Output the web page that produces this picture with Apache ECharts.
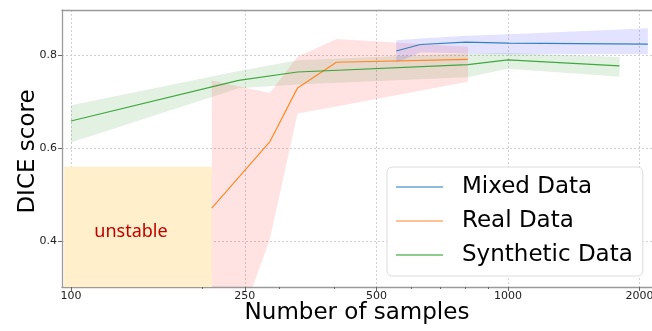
<!DOCTYPE html>
<html>
<head>
<meta charset="utf-8">
<script src="https://cdn.jsdelivr.net/npm/echarts@6/dist/echarts.min.js"></script>
<style>html,body{margin:0;padding:0;background:#fff;}#c{width:652px;height:331px;}</style>
</head>
<body>
<div id="c"></div>
<script>
// ---- data ----
const xTicks = [100, 250, 500, 1000, 2000];
const xMinorTicks = [200, 300, 400, 600, 700, 800, 900];
const yTicks = [0.4, 0.6, 0.8];

const mixedX = [555, 630, 800, 1000, 2090];
const mixedMean = [0.808, 0.822, 0.827, 0.825, 0.823];
const mixedLow = [0.783, 0.805, 0.803, 0.801, 0.801];
const mixedHigh = [0.831, 0.835, 0.841, 0.844, 0.857];

const realX = [210, 285, 330, 405, 810];
const realMean = [0.471, 0.613, 0.729, 0.784, 0.790];
const realLow = [0.06, 0.403, 0.674, 0.689, 0.742];
const realHigh = [0.745, 0.718, 0.796, 0.834, 0.817];

const synthX = [100, 242, 330, 810, 1000, 1800];
const synthMean = [0.658, 0.745, 0.763, 0.779, 0.789, 0.776];
const synthLow = [0.612, 0.728, 0.736, 0.752, 0.770, 0.753];
const synthHigh = [0.692, 0.765, 0.788, 0.803, 0.804, 0.795];

const unstableX = [96.5, 210];
const unstableY = [0.302, 0.560];

const X_MIN = 95.4, X_MAX = 2136, Y_MIN = 0.302, Y_MAX = 0.896;

// ---- chart ----
const chart = echarts.init(document.getElementById('c'), null, {renderer: 'canvas'});
const FONT = 'DejaVu Sans';
const SPINE = '#9a9a9a';

function band(xs, lo, hi, color) {
  return {
    type: 'custom', silent: true, z: 1,
    data: xs.map((x, i) => [x, lo[i], hi[i]]),
    encode: {x: 0, y: [1, 2]},
    renderItem: function (params, api) {
      if (params.dataIndex !== 0) return null;
      const top = xs.map((x, i) => api.coord([x, hi[i]]));
      const bot = xs.map((x, i) => api.coord([x, lo[i]])).reverse();
      const cs = params.coordSys;
      return {
        type: 'polygon',
        shape: {points: top.concat(bot)},
        style: {fill: color, stroke: null},
        clipPath: {type: 'rect', shape: {x: cs.x, y: cs.y, width: cs.width, height: cs.height}}
      };
    }
  };
}

function line(name, xs, ys, color, extra) {
  return Object.assign({
    name: name, type: 'line', showSymbol: false, symbol: 'none', z: 3,
    data: xs.map((x, i) => [x, ys[i]]),
    lineStyle: {color: color, width: 1.2, opacity: 0.9},
    itemStyle: {color: color}
  }, extra || {});
}

const option = {
  animation: false,
  grid: {left: 62, top: 10, right: 0, height: 277, show: false, containLabel: false, outerBoundsMode: 'none'},
  legend: {
    orient: 'vertical', left: 387, top: 167,
    backgroundColor: '#fff', borderColor: '#dcdcdc', borderWidth: 1, borderRadius: 5,
    padding: [6, 10, 7, 9], itemGap: 6,
    icon: 'rect', itemWidth: 47, itemHeight: 2,
    textStyle: {fontFamily: FONT, fontSize: 23, color: '#000', lineHeight: 28, padding: [0, 0, 0, 14]},
    data: [
      {name: 'Mixed Data', itemStyle: {color: '#8fbbe0'}},
      {name: 'Real Data', itemStyle: {color: '#ffc393'}},
      {name: 'Synthetic Data', itemStyle: {color: '#8ccd8c'}}
    ]
  },
  xAxis: [{
    type: 'log', logBase: 10, min: X_MIN, max: X_MAX,
    name: 'Number of samples', nameLocation: 'middle', nameGap: 15, nameMoveOverlap: false,
    nameTextStyle: {fontFamily: FONT, fontSize: 23, color: '#000'},
    axisLine: {show: true, lineStyle: {color: SPINE, width: 1.3}},
    axisTick: {show: true, length: 4, customValues: xTicks, lineStyle: {color: '#666'}},
    axisLabel: {customValues: xTicks, margin: 4, fontFamily: FONT, fontSize: 11, color: '#222',
      hideOverlap: false, formatter: v => String(Math.round(v))},
    splitLine: {show: true, lineStyle: {color: '#d0d0d0', type: [2, 2], width: 1}},
    minorTick: {show: false}
  }, {
    type: 'log', logBase: 10, min: X_MIN, max: X_MAX, position: 'bottom', gridIndex: 0,
    axisLine: {show: false},
    axisTick: {show: true, length: 2, customValues: xMinorTicks, lineStyle: {color: '#666'}},
    axisLabel: {show: false},
    splitLine: {show: false}
  }, {
    type: 'log', logBase: 10, min: X_MIN, max: X_MAX, position: 'top', gridIndex: 0,
    axisLine: {show: true, lineStyle: {color: SPINE, width: 1.3}},
    axisTick: {show: false},
    axisLabel: {show: false},
    splitLine: {show: false}
  }],
  yAxis: {
    type: 'value', min: Y_MIN, max: Y_MAX,
    name: 'DICE score', nameLocation: 'middle', nameGap: 22, nameMoveOverlap: false,
    nameTextStyle: {fontFamily: FONT, fontSize: 23, color: '#000', padding: [0, 6, 0, 0]},
    axisLine: {show: true, lineStyle: {color: SPINE, width: 1.3}},
    axisTick: {show: true, length: 4, customValues: yTicks, lineStyle: {color: '#666'}},
    axisLabel: {customValues: yTicks, margin: 5, fontFamily: FONT, fontSize: 11, color: '#222',
      formatter: v => v.toFixed(1)},
    splitLine: {show: true, lineStyle: {color: '#d0d0d0', type: [2, 2], width: 1}}
  },
  series: [
    band(synthX, synthLow, synthHigh, 'rgba(0,128,0,0.11)'),
    band(realX, realLow, realHigh, 'rgba(255,0,0,0.11)'),
    band(mixedX, mixedLow, mixedHigh, 'rgba(0,0,255,0.11)'),
    line('Mixed Data', mixedX, mixedMean, '#1f77b4'),
    line('Real Data', realX, realMean, '#ff7f0e', {
      markArea: {
        silent: true,
        itemStyle: {color: '#fff0cb', opacity: 1},
        label: {show: true, position: 'inside', offset: [-7, 5], color: '#c00000',
          fontFamily: 'Noto Sans', fontSize: 18},
        data: [[{name: 'unstable', coord: [unstableX[0], unstableY[1]]}, {coord: [unstableX[1], unstableY[0]]}]]
      }
    }),
    line('Synthetic Data', synthX, synthMean, '#2ca02c')
  ]
};
chart.setOption(option);
</script>
</body>
</html>
